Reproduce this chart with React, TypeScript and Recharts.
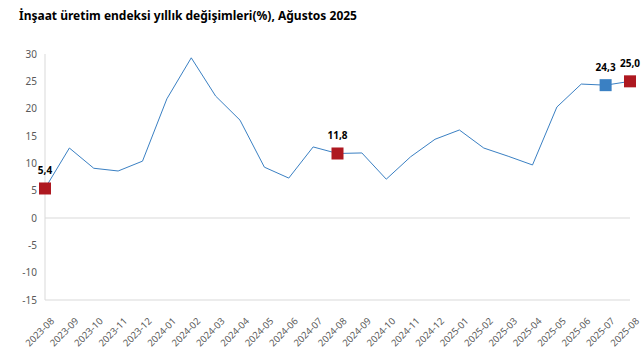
import React from "react";
import { LineChart, Line, XAxis, YAxis, ReferenceLine, LabelList } from "recharts";

const categories = ["2023-08","2023-09","2023-10","2023-11","2023-12","2024-01","2024-02","2024-03","2024-04","2024-05","2024-06","2024-07","2024-08","2024-09","2024-10","2024-11","2024-12","2025-01","2025-02","2025-03","2025-04","2025-05","2025-06","2025-07","2025-08"];
const values = [5.4,12.8,9.1,8.6,10.4,21.8,29.3,22.3,17.9,9.3,7.3,13.0,11.8,11.9,7.1,11.2,14.4,16.1,12.8,11.3,9.7,20.3,24.5,24.3,25.0];
const highlightRed = ["2023-08","2024-08","2025-08"];
const highlightBlue = ["2025-07"];
const yTicks = [-15,-10,-5,0,5,10,15,20,25,30];

const data = categories.map((c, i) => ({ cat: c, value: values[i] }));

const RED = "#AE1820";
const BLUE = "#3A80C3";

const font = "'Segoe UI', 'Noto Sans', 'Open Sans', sans-serif";

const renderDot = (props: any) => {
  const { cx, cy, payload, index } = props;
  let fill: string | null = null;
  if (highlightRed.includes(payload.cat)) fill = RED;
  if (highlightBlue.includes(payload.cat)) fill = BLUE;
  if (!fill) return <g key={index} />;
  return <rect key={index} x={cx - 6} y={cy - 6} width={12} height={12} fill={fill} />;
};

const renderLabel = (props: any) => {
  const { x, y, value, index } = props;
  const cat = categories[index];
  if (!highlightRed.includes(cat) && !highlightBlue.includes(cat)) return null;
  return (
    <text key={index} x={x} y={y - 14} textAnchor="middle" fontSize={10} fontWeight="bold" fill="#000" fontFamily={font}>
      {Number(value).toFixed(1).replace(".", ",")}
    </text>
  );
};

const XTick = (props: any) => {
  const { x, y, payload } = props;
  return (
    <text x={0} y={0} transform={`translate(${x + 5},${y + 9}) rotate(-45)`} textAnchor="end" fontSize={9.5} fill="#595959" fontFamily={font} dy="0.71em">
      {payload.value}
    </text>
  );
};

export default function App() {
  return (
    <div style={{ position: "absolute", left: 0, top: 0, width: 643, height: 364, background: "#fff" }}>
      <div style={{ position: "absolute", left: 19, top: 7, fontFamily: font, fontSize: 12, fontWeight: "bold", color: "#000" }}>
        İnşaat üretim endeksi yıllık değişimleri(%), Ağustos 2025
      </div>
      <LineChart width={643} height={364} data={data} margin={{ top: 54, right: 13, bottom: 0, left: 0 }}>
        <XAxis dataKey="cat" height={64} interval={0} tickLine={false} axisLine={{ stroke: "#d9d9d9" }} tick={<XTick />} />
        <YAxis width={45} domain={[-15, 30]} ticks={yTicks} tickLine={false} axisLine={{ stroke: "#d9d9d9" }} tick={{ fontSize: 10, fill: "#595959", fontFamily: font }} />
        <ReferenceLine y={0} stroke="#d9d9d9" />
        <Line type="linear" dataKey="value" stroke={BLUE} strokeWidth={1} dot={renderDot} activeDot={false} isAnimationActive={false}>
          <LabelList dataKey="value" content={renderLabel} />
        </Line>
      </LineChart>
    </div>
  );
}
